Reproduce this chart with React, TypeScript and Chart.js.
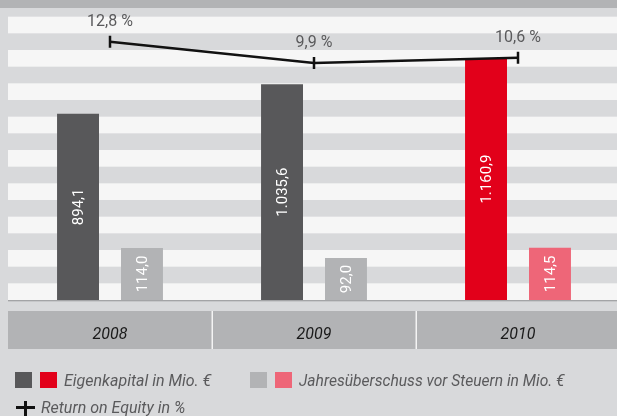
import React, { useEffect, useRef } from 'react';
import { Chart, registerables } from 'chart.js';

Chart.register(...registerables);

const categories = ['2008', '2009', '2010'];
const eigenkapital = [894.1, 1035.6, 1160.9];
const jahresueberschuss = [114.0, 92.0, 114.5];
const returnOnEquity = [12.8, 9.9, 10.6];

const eigenColors = ['#58585a', '#58585a', '#e2001a'];
const jahresColors = ['#b2b3b5', '#b2b3b5', '#ee6678'];

const legendEigen = 'Eigenkapital in Mio. €';
const legendJahres = 'Jahresüberschuss vor Steuern in Mio. €';
const legendRoe = 'Return on Equity in %';

const FONT = 'Roboto, "Noto Sans", sans-serif';

function fmt(v: number): string {
  const [i, d] = v.toFixed(1).split('.');
  return i.replace(/\B(?=(\d{3})+(?!\d))/g, '.') + ',' + d;
}

const LINE_DS = 0;
const BAR_DS = [1, 2];

const decorPlugin = {
  id: 'decor',
  beforeDraw(chart: any) {
    const { ctx, chartArea, scales } = chart;
    const y = scales.y;
    const x = scales.x;
    const w = chartArea.right - chartArea.left;
    ctx.save();
    // stripes
    ctx.fillStyle = '#f6f6f6';
    const step = 80;
    for (let v = 0; v < y.max; v += 2 * step) {
      const top = y.getPixelForValue(Math.min(v + step, y.max));
      const bot = y.getPixelForValue(v);
      ctx.fillRect(chartArea.left, top, w, bot - top);
    }
    // baseline
    ctx.fillStyle = '#a3a4a6';
    ctx.fillRect(chartArea.left, chartArea.bottom, w, 1);
    ctx.fillStyle = '#c6c7c9';
    ctx.fillRect(chartArea.left, chartArea.bottom + 1, w, 1);
    // category band
    ctx.fillStyle = '#b2b3b5';
    ctx.fillRect(chartArea.left, chartArea.bottom + 11, w, 38);
    ctx.fillStyle = '#f4f4f4';
    for (let i = 1; i < categories.length; i++) {
      const sx = (x.getPixelForValue(i - 1) + x.getPixelForValue(i)) / 2;
      ctx.fillRect(Math.round(sx) - 0.5, chartArea.bottom + 11, 1.5, 38);
    }
    ctx.restore();
  },
  afterDatasetsDraw(chart: any) {
    const { ctx } = chart;
    ctx.save();
    ctx.textAlign = 'center';
    ctx.textBaseline = 'middle';
    BAR_DS.forEach((dsIndex) => {
      const meta = chart.getDatasetMeta(dsIndex);
      const values = chart.data.datasets[dsIndex].data as number[];
      meta.data.forEach((el: any, i: number) => {
        const { x, y, base } = el.getProps(['x', 'y', 'base'], true);
        const cy = (y + base) / 2;
        ctx.save();
        ctx.translate(x + 1, cy);
        ctx.rotate(-Math.PI / 2);
        ctx.font = `15px ${FONT}`;
        ctx.fillStyle = '#ffffff';
        ctx.fillText(fmt(values[i]), 0, 0);
        ctx.restore();
      });
    });
    const lineMeta = chart.getDatasetMeta(LINE_DS);
    lineMeta.data.forEach((el: any, i: number) => {
      const { x, y } = el.getProps(['x', 'y'], true);
      ctx.font = `16px ${FONT}`;
      ctx.fillStyle = '#5a5a5c';
      ctx.fillText(`${fmt(returnOnEquity[i])} %`, x, y - 20);
    });
    ctx.restore();
  },
};

const legendText: React.CSSProperties = {
  position: 'absolute',
  fontFamily: FONT,
  fontStyle: 'italic',
  fontSize: 16,
  lineHeight: '16px',
  color: '#5a5a5c',
  whiteSpace: 'nowrap',
};

function Square({ left, top, color }: { left: number; top: number; color: string }) {
  return (
    <div style={{ position: 'absolute', left, top, width: 17, height: 16, background: color }} />
  );
}

export default function App() {
  const canvasRef = useRef<HTMLCanvasElement | null>(null);

  useEffect(() => {
    document.body.style.margin = '0';
    const canvas = canvasRef.current;
    if (!canvas) return;
    const chart = new Chart(canvas, {
      type: 'bar',
      data: {
        labels: categories,
        datasets: [
          {
            type: 'line',
            label: legendRoe,
            data: returnOnEquity,
            yAxisID: 'y3',
            borderColor: '#111111',
            borderWidth: 2.5,
            pointStyle: 'line',
            rotation: 90,
            pointRadius: 6,
            pointBorderWidth: 2.5,
            pointBorderColor: '#111111',
            tension: 0,
            fill: false,
            order: 0,
          } as any,
          {
            label: legendEigen,
            data: eigenkapital,
            yAxisID: 'y',
            backgroundColor: eigenColors,
            borderWidth: 0,
            categoryPercentage: 0.627,
            barPercentage: 0.656,
            order: 1,
          },
          {
            label: legendJahres,
            data: jahresueberschuss,
            yAxisID: 'y2',
            backgroundColor: jahresColors,
            borderWidth: 0,
            categoryPercentage: 0.627,
            barPercentage: 0.656,
            order: 1,
          },
        ],
      },
      options: {
        responsive: false,
        animation: false,
        devicePixelRatio: 1,
        layout: { autoPadding: false, padding: { left: 8, right: 2, top: 8, bottom: 0 } },
        plugins: { legend: { display: false }, tooltip: { enabled: false } },
        scales: {
          x: {
            grid: { display: false, drawTicks: false },
            border: { display: false },
            ticks: {
              padding: 25,
              color: '#1a1a1a',
              font: { family: FONT, size: 16, style: 'italic' },
            },
            afterFit: (scale: any) => {
              scale.height = 116;
            },
          },
          y: { display: false, min: 0, max: 1401.6 },
          y2: { display: false, min: 0, max: 640 },
          y3: { display: false, min: -22.5, max: 17.4 },
        },
      },
      plugins: [decorPlugin],
    } as any);
    return () => chart.destroy();
  }, []);

  return (
    <div
      style={{
        position: 'absolute',
        left: 0,
        top: 0,
        width: 617,
        height: 416,
        overflow: 'hidden',
        background: '#d8d9db',
      }}
    >
      <div style={{ position: 'absolute', left: 0, top: 0, width: 617, height: 8, background: '#b2b3b5' }} />
      <canvas ref={canvasRef} width={622} height={416} style={{ display: 'block', position: 'absolute', left: 0, top: 0 }} />
      <Square left={15} top={372} color={eigenColors[0]} />
      <Square left={40} top={372} color={eigenColors[2]} />
      <span style={{ ...legendText, left: 64, top: 373 }}>{legendEigen}</span>
      <Square left={250} top={372} color={jahresColors[0]} />
      <Square left={275} top={372} color={jahresColors[2]} />
      <span style={{ ...legendText, left: 299, top: 373, fontSize: 15.6 }}>{legendJahres}</span>
      <div style={{ position: 'absolute', left: 16, top: 406, width: 19, height: 3, background: '#111' }} />
      <div style={{ position: 'absolute', left: 24, top: 401, width: 3, height: 15, background: '#111' }} />
      <span style={{ ...legendText, left: 41, top: 400 }}>{legendRoe}</span>
    </div>
  );
}
